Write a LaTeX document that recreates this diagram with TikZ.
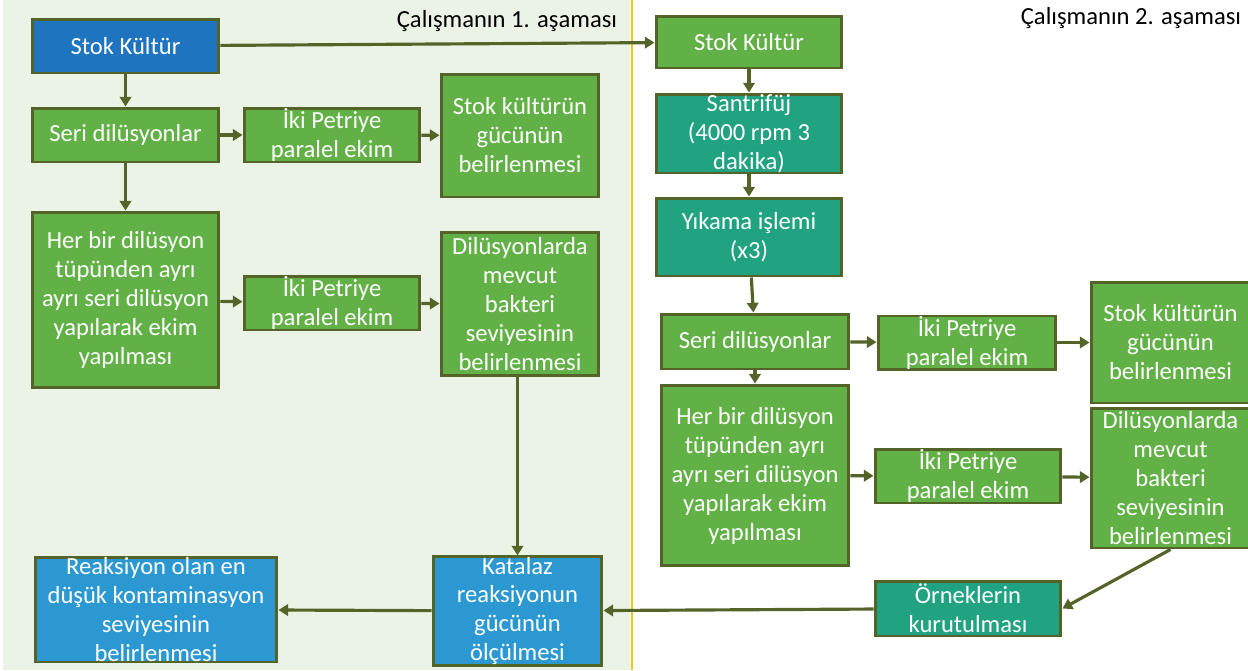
\documentclass[tikz,border=0pt]{standalone}
\usepackage{fontspec}
\setmainfont{Carlito}
\usepackage{tikz}
\usetikzlibrary{arrows.meta,positioning,calc}
\definecolor{darkblue}{RGB}{31,116,192}
\definecolor{lightblue}{RGB}{44,152,210}
\definecolor{boxgreen}{RGB}{98,177,70}
\definecolor{boxteal}{RGB}{33,163,130}
\definecolor{olive}{RGB}{84,100,40}
\definecolor{panelbg}{RGB}{235,243,230}
\definecolor{divider}{RGB}{247,196,20}
\tikzset{
  box/.style={draw=olive, line width=1.7pt, text=white, align=center,
    inner sep=0pt, font=\fontsize{14}{16.5}\selectfont},
  gbox/.style={box, fill=boxgreen},
  tbox/.style={box, fill=boxteal},
  bbox/.style={box, fill=lightblue},
  phase/.style={font=\fontsize{14}{16.5}\selectfont, text=black}
}

\begin{document}
\begin{tikzpicture}[x=0.02cm, y=-0.02cm, ->, >={Triangle[length=5.5pt,width=6.5pt]}, olive, line width=1.8pt]
  \useasboundingbox (0,0) rectangle (1248,670);
  \fill[panelbg] (3,0) rectangle (630,670);
  \draw[-, divider, line width=1.5pt] (632,0) -- (632,670);

  \node[phase] (ph1) at (507,21) {Çalışmanın 1. aşaması};
  \node[phase] (ph2) at (1131,18) {Çalışmanın 2. aşaması};

  % first stage
  \node[box, fill=darkblue, minimum width=3.74cm, minimum height=1.08cm] (sk1) at (125.5,46) {Stok Kültür};
  \node[gbox, minimum width=3.74cm, minimum height=1.08cm] (sd1) at (125.5,135) {Seri dilüsyonlar};
  \node[gbox, minimum width=3.52cm, minimum height=1.08cm] (ip1) at (332,135) {İki Petriye\\paralel ekim};
  \node[gbox, minimum width=3.16cm, minimum height=2.46cm] (gs1) at (520,135.5) {Stok kültürün\\gücünün\\belirlenmesi};
  \node[gbox, minimum width=3.74cm, minimum height=3.52cm] (hb1) at (125.5,300) {Her bir dilüsyon\\tüpünden ayrı\\ayrı seri dilüsyon\\yapılarak ekim\\yapılması};
  \node[gbox, minimum width=3.52cm, minimum height=1.08cm] (ip2) at (332,303) {İki Petriye\\paralel ekim};
  \node[gbox, minimum width=3.16cm, minimum height=2.88cm] (dm1) at (520,304) {Dilüsyonlarda\\mevcut\\bakteri\\seviyesinin\\belirlenmesi};
  \node[bbox, minimum width=3.38cm, minimum height=2.16cm] (kat) at (517.5,611) {Katalaz\\reaksiyonun\\gücünün\\ölçülmesi};
  \node[bbox, minimum width=4.84cm, minimum height=2.10cm] (rea) at (156,609.5) {Reaksiyon olan en\\düşük kontaminasyon\\seviyesinin\\belirlenmesi};

  % second stage
  \node[gbox, minimum width=3.72cm, minimum height=1.04cm] (sk2) at (749,42) {Stok Kültür};
  \node[tbox, minimum width=3.72cm, minimum height=1.58cm] (san) at (749,133.5) {Santrifüj\\(4000 rpm 3\\dakika)};
  \node[tbox, minimum width=3.72cm, minimum height=1.56cm] (yik) at (749,237) {Yıkama işlemi\\(x3)};
  \node[gbox, minimum width=3.76cm, minimum height=1.10cm] (sd2) at (755,341.5) {Seri dilüsyonlar};
  \node[gbox, minimum width=3.56cm, minimum height=1.06cm] (ip3) at (967,342.5) {İki Petriye\\paralel ekim};
  \node[gbox, minimum width=3.18cm, minimum height=2.42cm] (gs2) at (1170.5,342.5) {Stok kültürün\\gücünün\\belirlenmesi};
  \node[gbox, minimum width=3.76cm, minimum height=3.62cm] (hb2) at (755,475.5) {Her bir dilüsyon\\tüpünden ayrı\\ayrı seri dilüsyon\\yapılarak ekim\\yapılması};
  \node[gbox, minimum width=3.72cm, minimum height=1.08cm] (ip4) at (968,476) {İki Petriye\\paralel ekim};
  \node[gbox, minimum width=3.18cm, minimum height=2.80cm] (dm2) at (1170.5,478) {Dilüsyonlarda\\mevcut\\bakteri\\seviyesinin\\belirlenmesi};
  \node[tbox, minimum width=3.72cm, minimum height=1.10cm] (ork) at (968,608.5) {Örneklerin\\kurutulması};

  \path (sk1) edge (sk2);
  \path (sk1) edge (sd1);
  \path (sd1) edge (ip1);
  \path (ip1) edge (gs1);
  \path (sd1) edge (hb1);
  \path (hb1) edge (ip2);
  \path (ip2) edge (dm1);
  \path (dm1.south -| kat.north) edge (kat.north);
  \path (kat) edge (rea);
  \path (sk2) edge (san);
  \path (san) edge (yik);
  \path (yik) edge (sd2);
  \path (sd2) edge (ip3);
  \path (ip3) edge (gs2);
  \path (sd2) edge (hb2);
  \path (hb2) edge (ip4);
  \path (ip4) edge (dm2);
  \path (dm2.south) edge (ork.east);
  \path (ork) edge (kat);
\end{tikzpicture}
\end{document}
